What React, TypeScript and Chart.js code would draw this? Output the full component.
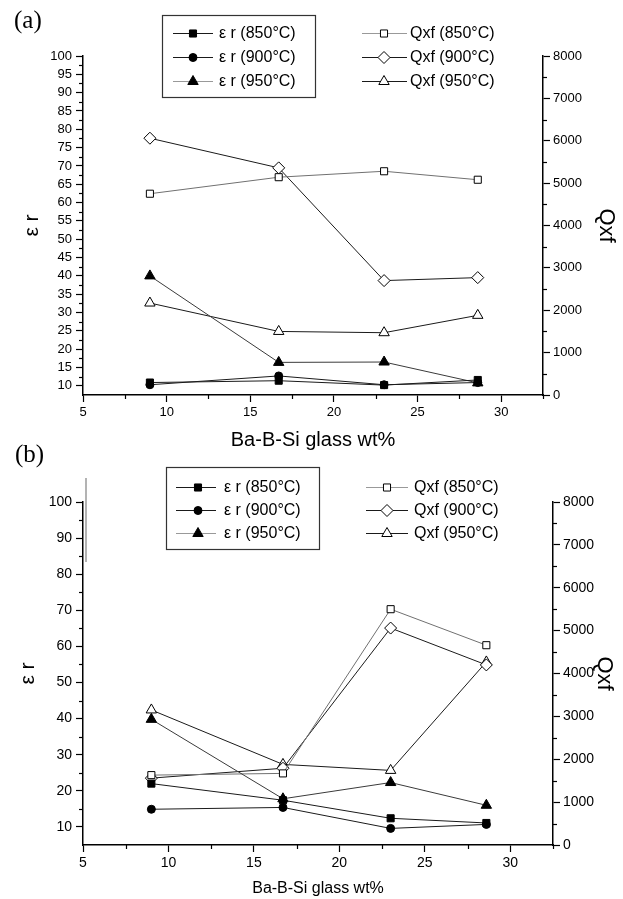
import React, { useEffect, useRef } from 'react';
import { Chart, registerables } from 'chart.js';

Chart.register(...registerables);

// ---------- data ----------
const glassWt = [9, 16.7, 23, 28.6];

// panel (a)
const aEr850 = [10.9, 11.4, 10.2, 11.6];
const aEr900 = [10.3, 12.7, 10.3, 10.9];
const aEr950 = [40.0, 16.4, 16.5, 10.8];
const aQ850 = [4750, 5140, 5280, 5080];
const aQ900 = [6060, 5360, 2700, 2770];
const aQ950 = [2170, 1500, 1470, 1880];

// panel (b)
const bEr850 = [22.0, 17.4, 12.4, 11.1];
const bEr900 = [14.9, 15.4, 9.6, 10.7];
const bEr950 = [39.8, 17.8, 22.3, 16.0];
const bQ850 = [1630, 1670, 5500, 4660];
const bQ900 = [1560, 1790, 5060, 4200];
const bQ950 = [3150, 1880, 1740, 4270];

// ticks
const xTicks = [5, 10, 15, 20, 25, 30];
const xMinor = [7.5, 12.5, 17.5, 22.5, 27.5, 32.5];
const aLeftTicks = [10, 15, 20, 25, 30, 35, 40, 45, 50, 55, 60, 65, 70, 75, 80, 85, 90, 95, 100];
const aLeftMinor = [12.5, 17.5, 22.5, 27.5, 32.5, 37.5, 42.5, 47.5, 52.5, 57.5, 62.5, 67.5, 72.5, 77.5, 82.5, 87.5, 92.5, 97.5];
const bLeftTicks = [10, 20, 30, 40, 50, 60, 70, 80, 90, 100];
const bLeftMinor = [15, 25, 35, 45, 55, 65, 75, 85, 95];
const rightTicks = [0, 1000, 2000, 3000, 4000, 5000, 6000, 7000, 8000];
const rightMinor = [500, 1500, 2500, 3500, 4500, 5500, 6500, 7500];

const seriesLabels = ['ε r (850°C)', 'ε r (900°C)', 'ε r (950°C)', 'Qxf (850°C)', 'Qxf (900°C)', 'Qxf (950°C)'];

const FONT = "'Liberation Sans', Arial, sans-serif";
const DARK = '#1a1a1a';
const GRAY = '#707070';

function drawMarker(ctx: CanvasRenderingContext2D, style: string, r: number, x: number, y: number, fill: string, stroke: string) {
  ctx.beginPath();
  if (style === 'rect') {
    const s = Math.SQRT1_2 * r;
    ctx.rect(x - s, y - s, 2 * s, 2 * s);
  } else if (style === 'rectRot') {
    ctx.moveTo(x - r, y);
    ctx.lineTo(x, y - r);
    ctx.lineTo(x + r, y);
    ctx.lineTo(x, y + r);
    ctx.closePath();
  } else if (style === 'triangle') {
    let a = 0;
    ctx.moveTo(x + Math.sin(a) * r, y - Math.cos(a) * r);
    a += (2 * Math.PI) / 3;
    ctx.lineTo(x + Math.sin(a) * r, y - Math.cos(a) * r);
    a += (2 * Math.PI) / 3;
    ctx.lineTo(x + Math.sin(a) * r, y - Math.cos(a) * r);
    ctx.closePath();
  } else {
    ctx.arc(x, y, r, 0, Math.PI * 2);
  }
  ctx.fillStyle = fill;
  ctx.fill();
  ctx.strokeStyle = stroke;
  ctx.lineWidth = 1;
  ctx.stroke();
}

const panelLegendPlugin = {
  id: 'panelLegend',
  afterDraw(chart: any, _args: any, opts: any) {
    const ctx: CanvasRenderingContext2D = chart.ctx;
    ctx.save();
    if (opts.box) {
      ctx.strokeStyle = '#333';
      ctx.lineWidth = 1.2;
      const b = opts.box;
      ctx.strokeRect(b.x1 + 0.5, b.y1 + 0.5, b.x2 - b.x1, b.y2 - b.y1);
    }
    for (const g of opts.groups) {
      g.items.forEach((di: number, row: number) => {
        const d = chart.data.datasets[di];
        const y = opts.rows[row];
        ctx.strokeStyle = d.legendLineColor || d.borderColor;
        ctx.lineWidth = 1;
        ctx.beginPath();
        ctx.moveTo(g.lineX1, y + 0.5);
        ctx.lineTo(g.lineX2, y + 0.5);
        ctx.stroke();
        drawMarker(ctx, d.pointStyle, d.pointRadius, g.markerX, y + 0.5, d.pointBackgroundColor, d.pointBorderColor);
        ctx.fillStyle = '#000';
        ctx.font = `${opts.fontSize}px ${FONT}`;
        ctx.textBaseline = 'middle';
        ctx.textAlign = 'left';
        ctx.fillText(d.label, g.textX, y + 1);
      });
    }
    if (opts.panelLabel) {
      ctx.fillStyle = '#000';
      ctx.font = `25px 'Liberation Serif', 'Times New Roman', serif`;
      ctx.textBaseline = 'alphabetic';
      ctx.textAlign = 'left';
      ctx.fillText(opts.panelLabel.text, opts.panelLabel.x, opts.panelLabel.y);
    }
    if (opts.artifact) {
      const a = opts.artifact;
      ctx.strokeStyle = '#9a9a9a';
      ctx.lineWidth = 1.5;
      ctx.beginPath();
      ctx.moveTo(a.x, a.y1);
      ctx.lineTo(a.x, a.y2);
      ctx.stroke();
    }
    ctx.restore();
  },
};

const minorTicksPlugin = {
  id: 'minorTicks',
  afterDraw(chart: any, _args: any, opts: any) {
    const ctx: CanvasRenderingContext2D = chart.ctx;
    const { left, right, bottom } = chart.chartArea;
    const len = opts.length || 4;
    ctx.save();
    ctx.strokeStyle = '#000';
    ctx.lineWidth = 1.2;
    for (const id of Object.keys(opts.scales || {})) {
      const s = chart.scales[id];
      if (!s) continue;
      for (const v of opts.scales[id]) {
        const p = Math.round(s.getPixelForValue(v)) + 0.5;
        ctx.beginPath();
        if (s.position === 'left') {
          ctx.moveTo(left, p);
          ctx.lineTo(left - len, p);
        } else if (s.position === 'right') {
          ctx.moveTo(right, p);
          ctx.lineTo(right + len, p);
        } else {
          ctx.moveTo(p, bottom);
          ctx.lineTo(p, bottom + len);
        }
        ctx.stroke();
      }
    }
    ctx.restore();
  },
};

function mkDataset(label: string, values: number[], axis: string, pointStyle: string, filled: boolean, color: string, legendColor: string, radius: number) {
  return {
    label,
    data: glassWt.map((x, i) => ({ x, y: values[i] })),
    yAxisID: axis,
    xAxisID: 'x',
    borderColor: color,
    legendLineColor: legendColor,
    borderWidth: 1,
    pointStyle,
    pointRadius: radius,
    pointBorderWidth: 1,
    pointBackgroundColor: filled ? '#000' : '#fff',
    pointBorderColor: '#000',
    showLine: true,
    fill: false,
    tension: 0,
    clip: false,
  };
}

type PanelCfg = {
  height: number;
  areaLeft: number;
  areaRight: number;
  areaTop: number;
  areaBottom: number;
  er: number[][];
  q: number[][];
  leftMin: number;
  leftTicks: number[];
  leftMinor: number[];
  tickFont: number;
  xTitleFont: number;
  xTitlePad: number;
  erTitlePad: number;
  qTitlePad: number;
  legend: any;
};

function buildConfig(p: PanelCfg): any {
  const W = 623;
  const datasets = [
    mkDataset(seriesLabels[0], p.er[0], 'y', 'rect', true, DARK, DARK, 5),
    mkDataset(seriesLabels[1], p.er[1], 'y', 'circle', true, DARK, DARK, 4),
    mkDataset(seriesLabels[2], p.er[2], 'y', 'triangle', true, '#3a3a3a', '#999', 6),
    mkDataset(seriesLabels[3], p.q[0], 'y1', 'rect', false, GRAY, '#999', 5),
    mkDataset(seriesLabels[4], p.q[1], 'y1', 'rectRot', false, DARK, DARK, 6),
    mkDataset(seriesLabels[5], p.q[2], 'y1', 'triangle', false, DARK, DARK, 6),
  ];
  const gridCfg = { display: true, drawOnChartArea: false, drawTicks: true, tickLength: 7, tickColor: '#000', tickWidth: 1.2 };
  const borderCfg = { display: true, color: '#000', width: 1.5 };
  const tickFont = { family: FONT, size: p.tickFont };
  return {
    type: 'line',
    data: { datasets },
    plugins: [panelLegendPlugin, minorTicksPlugin],
    options: {
      responsive: false,
      animation: false,
      layout: { padding: { top: p.areaTop, left: 0, right: 0, bottom: 0 } },
      plugins: {
        legend: { display: false },
        tooltip: { enabled: false },
        panelLegend: p.legend,
        minorTicks: { length: 4, scales: { x: xMinor, y: p.leftMinor, y1: rightMinor } },
      },
      scales: {
        x: {
          type: 'linear',
          position: 'bottom',
          min: 5,
          max: 32.5,
          afterBuildTicks: (s: any) => { s.ticks = xTicks.map((v) => ({ value: v })); },
          afterFit: (s: any) => { s.height = p.height - p.areaBottom; },
          grid: gridCfg,
          border: borderCfg,
          ticks: { font: tickFont, color: '#000', padding: 3, maxRotation: 0, autoSkip: false, callback: (v: any) => String(v) },
          title: { display: true, text: 'Ba-B-Si glass wt%', color: '#000', font: { family: FONT, size: p.xTitleFont }, padding: { top: 0, bottom: p.xTitlePad } },
        },
        y: {
          type: 'linear',
          position: 'left',
          min: p.leftMin,
          max: 100,
          afterBuildTicks: (s: any) => { s.ticks = p.leftTicks.map((v) => ({ value: v })); },
          afterFit: (s: any) => { s.width = p.areaLeft; },
          grid: gridCfg,
          border: borderCfg,
          ticks: { font: tickFont, color: '#000', padding: 4, autoSkip: false, callback: (v: any) => String(v) },
          title: { display: true, text: 'ε r', color: '#000', font: { family: FONT, size: 21 }, padding: { top: p.erTitlePad, bottom: 0 } },
        },
        y1: {
          type: 'linear',
          position: 'right',
          min: 0,
          max: 8000,
          afterBuildTicks: (s: any) => { s.ticks = rightTicks.map((v) => ({ value: v })); },
          afterFit: (s: any) => { s.width = W - p.areaRight; },
          grid: gridCfg,
          border: borderCfg,
          ticks: { font: tickFont, color: '#000', padding: 3, autoSkip: false, callback: (v: any) => String(v) },
          title: { display: true, text: 'Qxf', color: '#000', font: { family: FONT, size: 22 }, padding: { top: p.qTitlePad, bottom: 0 } },
        },
      },
    },
  };
}

const panelA: PanelCfg = {
  height: 452,
  areaLeft: 83,
  areaRight: 543,
  areaTop: 56,
  areaBottom: 395,
  er: [aEr850, aEr900, aEr950],
  q: [aQ850, aQ900, aQ950],
  leftMin: 7.5,
  leftTicks: aLeftTicks,
  leftMinor: aLeftMinor,
  tickFont: 13,
  xTitleFont: 20,
  xTitlePad: 0,
  erTitlePad: 20,
  qTitlePad: 4,
  legend: {
    fontSize: 16,
    box: { x1: 162, y1: 15, x2: 315, y2: 97 },
    rows: [33, 57, 81],
    groups: [
      { items: [0, 1, 2], lineX1: 173, lineX2: 213, markerX: 193, textX: 219 },
      { items: [3, 4, 5], lineX1: 362, lineX2: 407, markerX: 384, textX: 410 },
    ],
    panelLabel: { text: '(a)', x: 14, y: 28 },
  },
};

const panelB: PanelCfg = {
  height: 459,
  areaLeft: 83,
  areaRight: 553,
  areaTop: 62,
  areaBottom: 405,
  er: [bEr850, bEr900, bEr950],
  q: [bQ850, bQ900, bQ950],
  leftMin: 5,
  leftTicks: bLeftTicks,
  leftMinor: bLeftMinor,
  tickFont: 14,
  xTitleFont: 16,
  xTitlePad: 1,
  erTitlePad: 16,
  qTitlePad: 6,
  legend: {
    fontSize: 16,
    box: { x1: 166, y1: 27, x2: 319, y2: 109 },
    rows: [47, 70, 93],
    groups: [
      { items: [0, 1, 2], lineX1: 176, lineX2: 216, markerX: 198, textX: 224 },
      { items: [3, 4, 5], lineX1: 366, lineX2: 408, markerX: 387, textX: 414 },
    ],
    panelLabel: { text: '(b)', x: 15, y: 22 },
    artifact: { x: 86, y1: 38, y2: 122 },
  },
};

function PanelChart({ cfg, top }: { cfg: PanelCfg; top: number }) {
  const ref = useRef<HTMLCanvasElement>(null);
  useEffect(() => {
    if (!ref.current) return;
    const chart = new Chart(ref.current, buildConfig(cfg));
    return () => chart.destroy();
  }, [cfg]);
  return (
    <canvas
      ref={ref}
      width={623}
      height={cfg.height}
      style={{ position: 'absolute', left: 0, top, width: 623, height: cfg.height, display: 'block' }}
    />
  );
}

export default function App() {
  return (
    <div style={{ position: 'fixed', left: 0, top: 0, width: 623, height: 899, background: '#fff', overflow: 'hidden' }}>
      <PanelChart cfg={panelA} top={0} />
      <PanelChart cfg={panelB} top={440} />
    </div>
  );
}
